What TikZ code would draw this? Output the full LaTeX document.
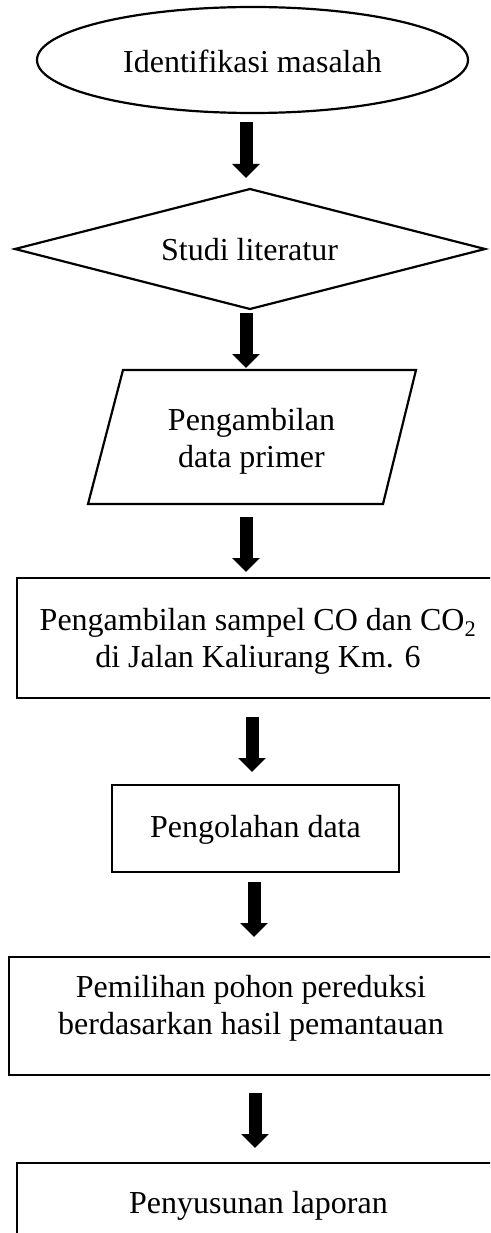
\documentclass[tikz,border=0pt]{standalone}
\usepackage{fontspec}
\setmainfont{Liberation Serif}
\usetikzlibrary{shapes.geometric,arrows.meta}
\begin{document}
\begin{tikzpicture}[x=1pt,y=-1pt,
  outline/.style={draw=black, line width=2.2pt, inner sep=0pt},
  lbl/.style={font=\fontsize{32}{37}\selectfont, inner sep=0pt, align=center},
  blockarrow/.style={line width=13pt, -{Triangle[width=27pt,length=14pt]}}]
\useasboundingbox (0,0) rectangle (490,1233);
\clip (0,0) rectangle (490,1233);
\fill[white] (0,0) rectangle (490,1233);

% shapes
\node[outline, ellipse, minimum width=431pt, minimum height=106pt] (s1) at (252.5,60) {};
\coordinate (d1) at (15,249);
\coordinate (d2) at (250,189);
\coordinate (d3) at (485,249);
\coordinate (d4) at (250,309);
\draw[outline, line join=miter] (d1) -- (d2) -- (d3) -- (d4) -- cycle;
\coordinate (p1) at (123,370);
\coordinate (p2) at (416,370);
\coordinate (p3) at (383,504);
\coordinate (p4) at (88,504);
\draw[outline] (p1) -- (p2) -- (p3) -- (p4) -- cycle;
\draw[outline] (17,578) rectangle (520,698);
\draw[outline] (112,785) rectangle (399,872);
\draw[outline] (9,957) rectangle (520,1075);
\draw[outline] (17,1163) rectangle (520,1260);

% texts
\node[lbl, anchor=base] (t1) at (252.5,73) {Identifikasi masalah};
\node[lbl, anchor=base] (t2) at (249.5,260) {Studi literatur};
\node[lbl] (t3) at (251.5,441) {Pengambilan\\data primer};
\node[lbl] (t4) at (258,641.5) {Pengambilan sampel CO dan CO\textsubscript{2}\\di Jalan Kaliurang Km. 6};
\node[lbl, anchor=base] (t5) at (255.5,837) {Pengolahan data};
\node[lbl] (t6) at (251,1008.5) {Pemilihan pohon pereduksi\\berdasarkan hasil pemantauan};
\node[lbl, anchor=base] (t7) at (258.5,1213) {Penyusunan laporan};

% arrows
\coordinate (a1s) at (246,122);  \coordinate (a1e) at (246,178);
\coordinate (a2s) at (246,313);  \coordinate (a2e) at (246,368);
\coordinate (a3s) at (246,517);  \coordinate (a3e) at (246,572);
\coordinate (a4s) at (252,717);  \coordinate (a4e) at (252,772);
\coordinate (a5s) at (254,882);  \coordinate (a5e) at (254,937);
\coordinate (a6s) at (255,1093); \coordinate (a6e) at (255,1148);
\draw[blockarrow] (a1s) -- (a1e);
\draw[blockarrow] (a2s) -- (a2e);
\draw[blockarrow] (a3s) -- (a3e);
\draw[blockarrow] (a4s) -- (a4e);
\draw[blockarrow] (a5s) -- (a5e);
\draw[blockarrow] (a6s) -- (a6e);
\end{tikzpicture}
\end{document}
